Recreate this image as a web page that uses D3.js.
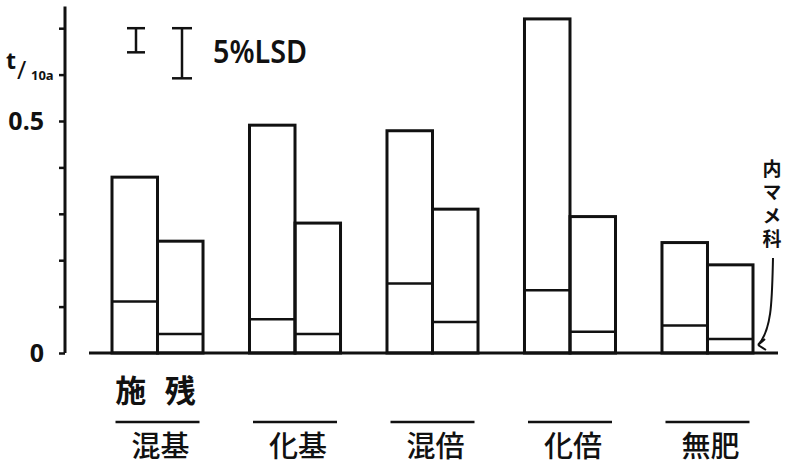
<!DOCTYPE html>
<html>
<head>
<meta charset="utf-8">
<script src="https://cdn.jsdelivr.net/npm/d3@7"></script>
<style>
  body { margin: 0; background: #fff; }
  svg { display: block; }
</style>
</head>
<body>
<svg width="787" height="466"></svg>
<script>
const groups = ['混基', '化基', '混倍', '化倍', '無肥'];
const subs = ['施', '残'];
const totalApplied = [0.379, 0.491, 0.479, 0.720, 0.238];
const legumeApplied = [0.111, 0.073, 0.150, 0.135, 0.059];
const totalResidual = [0.241, 0.280, 0.310, 0.294, 0.190];
const legumeResidual = [0.041, 0.041, 0.067, 0.046, 0.030];
const yTicks = [0, 0.1, 0.2, 0.3, 0.4, 0.5, 0.6, 0.7];
const yTickLabels = { 0: '0', 0.5: '0.5' };
const lsdValues = [0.052, 0.108];

const svg = d3.select('svg');
const ink = '#111';
const jp = '"Noto Sans CJK JP", "Noto Sans CJK SC", sans-serif';

const yScale = d3.scaleLinear()
    .domain([0, 0.75])
    .range([353, 5]);

const xScale = d3.scaleBand()
    .domain(groups)
    .range([112, 753])
    .paddingInner(0.338)
    .paddingOuter(0);

const subScale = d3.scaleBand()
    .domain(subs)
    .range([0, xScale.bandwidth()]);

const data = groups.map((g, i) => ({
    group: g,
    bars: [
        { sub: '施', total: totalApplied[i], legume: legumeApplied[i] },
        { sub: '残', total: totalResidual[i], legume: legumeResidual[i] }
    ]
}));

// y axis
const yAxis = d3.axisLeft(yScale)
    .tickValues(yTicks)
    .tickSize(6)
    .tickPadding(15)
    .tickFormat(d => yTickLabels[d] || '');

const yAxisG = svg.append('g')
    .attr('transform', 'translate(65,0)')
    .call(yAxis);

yAxisG.select('.domain')
    .attr('stroke', ink)
    .attr('stroke-width', 3)
    .attr('d', `M0,${yScale(0.747)}V${yScale(0)}`);

yAxisG.selectAll('.tick line')
    .attr('stroke', ink)
    .attr('stroke-width', 2.5);

yAxisG.selectAll('.tick text')
    .attr('fill', ink)
    .style('font-family', '"Noto Sans", sans-serif')
    .style('font-weight', 700)
    .style('font-size', '25px');

// unit label at the 0.6 tick
const unit = svg.append('text')
    .attr('fill', ink)
    .style('font-family', '"Noto Sans", sans-serif')
    .style('font-weight', 700);
unit.append('tspan')
    .attr('x', 6)
    .attr('y', yScale(0.6) - 6)
    .style('font-size', '23px')
    .text('t');
unit.append('tspan')
    .attr('x', 17)
    .attr('y', yScale(0.6) + 4)
    .style('font-size', '25px')
    .style('font-weight', 400)
    .text('/');
unit.append('tspan')
    .attr('x', 31)
    .attr('y', yScale(0.6) + 5)
    .style('font-size', '13px')
    .text('10a');

// baseline
svg.append('line')
    .attr('x1', 89).attr('x2', 778)
    .attr('y1', yScale(0)).attr('y2', yScale(0))
    .attr('stroke', ink)
    .attr('stroke-width', 3);

// bars
const groupG = svg.selectAll('.grp').data(data)
    .enter().append('g')
    .attr('class', 'grp')
    .attr('transform', d => `translate(${xScale(d.group)},0)`);

const barG = groupG.selectAll('.bar').data(d => d.bars)
    .enter().append('g')
    .attr('class', 'bar');

barG.append('rect')
    .attr('x', d => subScale(d.sub))
    .attr('y', d => yScale(d.total))
    .attr('width', subScale.bandwidth())
    .attr('height', d => yScale(0) - yScale(d.total))
    .attr('fill', 'none')
    .attr('stroke', ink)
    .attr('stroke-width', 3);

barG.append('line')
    .attr('x1', d => subScale(d.sub))
    .attr('x2', d => subScale(d.sub) + subScale.bandwidth())
    .attr('y1', d => yScale(d.legume))
    .attr('y2', d => yScale(d.legume))
    .attr('stroke', ink)
    .attr('stroke-width', 2.5);

// LSD bars
const lsdX = [136, 182];
const lsdCap = [18, 20];
lsdValues.forEach((v, i) => {
    const top = yScale(0.70);
    const bottom = top + (yScale(0) - yScale(v));
    const g = svg.append('g')
        .attr('stroke', ink)
        .attr('stroke-width', 2.5);
    g.append('line').attr('x1', lsdX[i]).attr('x2', lsdX[i]).attr('y1', top).attr('y2', bottom);
    g.append('line').attr('x1', lsdX[i] - lsdCap[i] / 2).attr('x2', lsdX[i] + lsdCap[i] / 2).attr('y1', top).attr('y2', top);
    g.append('line').attr('x1', lsdX[i] - lsdCap[i] / 2).attr('x2', lsdX[i] + lsdCap[i] / 2).attr('y1', bottom).attr('y2', bottom);
});

svg.append('text')
    .attr('x', 213)
    .attr('y', 63)
    .attr('fill', ink)
    .attr('textLength', 94)
    .attr('lengthAdjust', 'spacingAndGlyphs')
    .style('font-family', '"Noto Sans", sans-serif')
    .style('font-weight', 600)
    .style('font-size', '33px')
    .text('5%LSD');

// sub labels under the first group
const first = groups[0];
svg.selectAll('.sublabel').data(subs)
    .enter().append('text')
    .attr('class', 'sublabel')
    .attr('x', d => xScale(first) + subScale(d) + subScale.bandwidth() / 2 + (d === '施' ? -4 : 0))
    .attr('y', 402)
    .attr('text-anchor', 'middle')
    .attr('fill', ink)
    .style('font-family', jp)
    .style('font-weight', 700)
    .style('font-size', '31px')
    .text(d => d);

// group labels with overlines
const labelG = svg.selectAll('.glabel').data(groups)
    .enter().append('g')
    .attr('class', 'glabel')
    .attr('transform', d => `translate(${xScale(d) + xScale.bandwidth() / 2},0)`);

labelG.append('line')
    .attr('x1', -42).attr('x2', 42)
    .attr('y1', 422).attr('y2', 422)
    .attr('stroke', ink)
    .attr('stroke-width', 2.5);

labelG.append('text')
    .attr('x', 3)
    .attr('y', 457)
    .attr('text-anchor', 'middle')
    .attr('fill', ink)
    .style('font-family', jp)
    .style('font-weight', 500)
    .style('font-size', '29px')
    .text(d => d);

// 内マメ科 annotation, written vertically
svg.append('text')
    .attr('x', 772)
    .attr('y', 159)
    .attr('fill', ink)
    .style('writing-mode', 'vertical-rl')
    .style('text-orientation', 'upright')
    .style('letter-spacing', '4.5px')
    .style('font-family', jp)
    .style('font-weight', 700)
    .style('font-size', '19px')
    .text('内マメ科');

svg.append('path')
    .attr('d', 'M773,258 C772,300 772,330 758,345 M758,345 L765,339 M758,345 L766,350')
    .attr('fill', 'none')
    .attr('stroke', ink)
    .attr('stroke-width', 2);
</script>
</body>
</html>
